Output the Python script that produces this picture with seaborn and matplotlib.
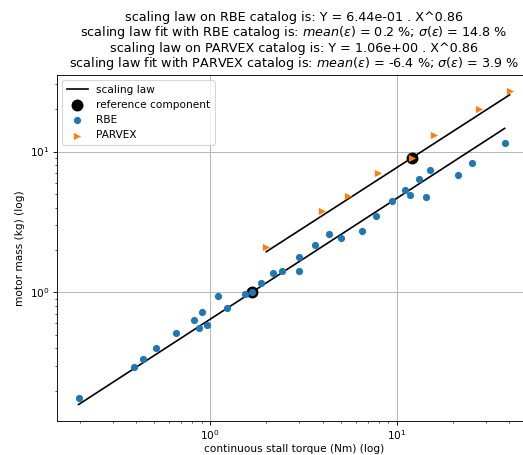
import numpy as np
import pandas as pd
import matplotlib
matplotlib.use('Agg')
import matplotlib.pyplot as plt
import seaborn as sns

# catalogue data (torque Nm, mass kg)
rbe_torque = [0.197, 0.389, 0.436, 0.514, 0.652, 0.818, 0.865, 0.906, 0.960,
              1.094, 1.228, 1.54, 1.68, 1.86, 2.17, 2.41, 3.0, 3.0, 3.64,
              4.32, 5.04, 6.52, 7.75, 9.44, 10.98, 11.68, 13.17, 14.23,
              15.07, 21.1, 25.3, 37.7]
rbe_mass = [0.177, 0.296, 0.337, 0.404, 0.511, 0.638, 0.557, 0.724, 0.582,
            0.941, 0.769, 0.973, 1.0, 1.16, 1.38, 1.41, 1.77, 1.41, 2.17,
            2.58, 2.43, 2.71, 3.49, 4.43, 5.31, 4.89, 6.42, 4.76,
            7.36, 6.82, 8.30, 11.57]

parvex_torque = [1.995, 3.98, 5.49, 7.91, 12.0, 15.8, 27.6, 40.1]
parvex_mass = [2.10, 3.80, 4.81, 7.01, 8.98, 13.06, 19.97, 26.97]

# reference components
ref_torque = [1.68, 12.0]
ref_mass = [1.0, 8.98]

# end points of the scaling law lines
rbe_law_x = [0.197, 37.7]
rbe_law_y = [0.159, 14.6]
parvex_law_x = [1.995, 40.1]
parvex_law_y = [1.94, 25.3]

title = ("scaling law on RBE catalog is: Y = 6.44e-01 . X^0.86\n"
         "scaling law fit with RBE catalog is: $mean(\\epsilon)$ = 0.2 %; $\\sigma(\\epsilon)$ = 14.8 %\n"
         "scaling law on PARVEX catalog is: Y = 1.06e+00 . X^0.86\n"
         "scaling law fit with PARVEX catalog is: $mean(\\epsilon)$ = -6.4 %; $\\sigma(\\epsilon)$ = 3.9 %")

rbe = pd.DataFrame({'torque': rbe_torque, 'mass': rbe_mass})
parvex = pd.DataFrame({'torque': parvex_torque, 'mass': parvex_mass})
ref = pd.DataFrame({'torque': ref_torque, 'mass': ref_mass})

plt.rcParams['font.size'] = 9.5

fig = plt.figure(figsize=(523 / 80, 455 / 80), dpi=80)
ax = fig.add_axes([57 / 523, 34.3 / 455, 474 / 523, 345.7 / 455])
ax.set_xscale('log')
ax.set_yscale('log')

sns.lineplot(x=rbe_law_x, y=rbe_law_y, color='k', label='scaling law', ax=ax, zorder=2)
sns.lineplot(x=parvex_law_x, y=parvex_law_y, color='k', ax=ax, zorder=2)
sns.scatterplot(data=ref, x='torque', y='mass', color='k', s=115, linewidth=0,
                label='reference component', ax=ax, zorder=3)
sns.scatterplot(data=rbe, x='torque', y='mass', color='#1f77b4', s=42, linewidth=0,
                label='RBE', ax=ax, zorder=4)
sns.scatterplot(data=parvex, x='torque', y='mass', color='#ff7f0e', marker='>', s=42,
                linewidth=0, label='PARVEX', ax=ax, zorder=4)

ax.set_xlim(0.151, 52.2)
ax.set_ylim(0.122, 35.0)
ax.grid(True, which='major', color='#b0b0b0', linewidth=0.8)
ax.set_axisbelow(True)
ax.set_xlabel('continuous stall torque (Nm) (log)', labelpad=2)
ax.set_ylabel('motor mass (kg) (log)')
ax.set_title(title, fontsize=11.5, linespacing=1.05, pad=7)
ax.legend(loc='upper left')

fig.savefig('out.png', dpi=80)
